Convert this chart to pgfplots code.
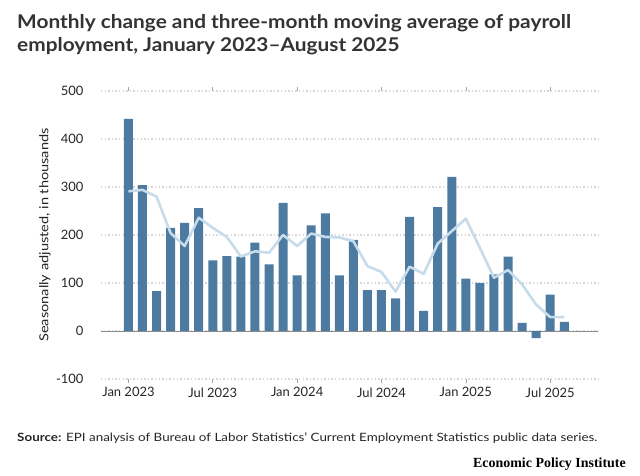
\documentclass[border=0pt]{standalone}
\usepackage{fontspec}
\setmainfont{Lato}
\newfontfamily\titlefont[FakeStretch=1.10,Ligatures=TeX]{Lato}
\newfontfamily\srcfont[FakeStretch=1.17,Ligatures=TeX]{Lato}
\newfontfamily\epifont{Liberation Serif}
\usepackage{pgfplots}
\pgfplotsset{compat=1.18}

\definecolor{barblue}{HTML}{4D7AA0}
\definecolor{avgblue}{HTML}{C6DCEA}
\definecolor{gridgray}{HTML}{D6D6D6}
\definecolor{titlegray}{HTML}{333333}

\begin{document}
\begin{tikzpicture}[x=1bp,y=1bp]
\fill[white] (0,0) rectangle (640,476);

\begin{axis}[
    at={(101bp,97bp)}, anchor=south west,
    scale only axis,
    width=497bp, height=288bp,
    xmin=-1.95, xmax=33.4,
    ymin=-100, ymax=500,
    axis line style={draw=none},
    xtick={0,6,12,18,24,30},
    xticklabels={Jan 2023,Jul 2023,Jan 2024,Jul 2024,Jan 2025,Jul 2025},
    ytick={-100,0,100,200,300,400,500},
    yticklabels={-100,0,100,200,300,400,500},
    tick align=outside,
    xtick style={draw=gray!70, line width=0.6pt},
    major tick length=4bp,
    ytick style={draw=none},
    ymajorgrids,
    grid style={gridgray, line width=1.4pt, dash pattern=on 1.4bp off 2.2bp},
    ticklabel style={font=\fontsize{13}{15}\selectfont, text=black!85},
    yticklabel style={xshift=-10bp},
    xticklabel style={yshift=-1bp},
    ylabel={Seasonally adjusted, in thousands},
    ylabel style={at={(axis description cs:-0.1127,0.5)}, anchor=center,
        font=\srcfont\fontsize{12.5}{15}\selectfont, text=black!85},
    /pgf/number format/assume math mode=true,
    clip=false,
]
\draw[gray!90, line width=0.8pt] (axis cs:-1.95,0) -- (axis cs:33.4,0);
\addplot[ybar, bar width=9bp, fill=barblue, draw=none] coordinates {
    (0,442) (1,304) (2,83) (3,215) (4,225) (5,256) (6,147) (7,156)
    (8,155) (9,184) (10,139) (11,267) (12,116) (13,220) (14,245) (15,116)
    (16,190) (17,85) (18,85) (19,68) (20,238) (21,42) (22,258) (23,321)
    (24,109) (25,100) (26,118) (27,155) (28,17) (29,-15) (30,76) (31,19)
};
\addplot[avgblue, line width=2.6pt, line join=round, no marks] coordinates {
    (0,291) (1,294) (2,280) (3,204) (4,177) (5,236) (6,215) (7,196)
    (8,155) (9,166) (10,163) (11,200) (12,177) (13,203) (14,196) (15,195)
    (16,187) (17,135) (18,123) (19,82) (20,134) (21,119) (22,182) (23,208)
    (24,234) (25,173) (26,111) (27,127) (28,97) (29,55) (30,29) (31,29)
};
\end{axis}

\node[anchor=north west, align=left, inner sep=0, text=titlegray,
      font=\titlefont\fontsize{19}{23}\selectfont\bfseries] at (17,462)
  {Monthly change and three-month moving average of payroll\\
   employment, January 2023–August 2025};
\node[anchor=base west, inner sep=0, text=black!85,
      font=\srcfont\fontsize{11.5}{14}\selectfont] at (17,34)
  {\textbf{Source:} EPI analysis of Bureau of Labor Statistics' Current Employment Statistics public data series.};
\node[anchor=base east, inner sep=0, text=black,
      font=\fontsize{14}{16}\selectfont\epifont\bfseries] at (626,8)
  {Economic Policy Institute};
\end{tikzpicture}
\end{document}
